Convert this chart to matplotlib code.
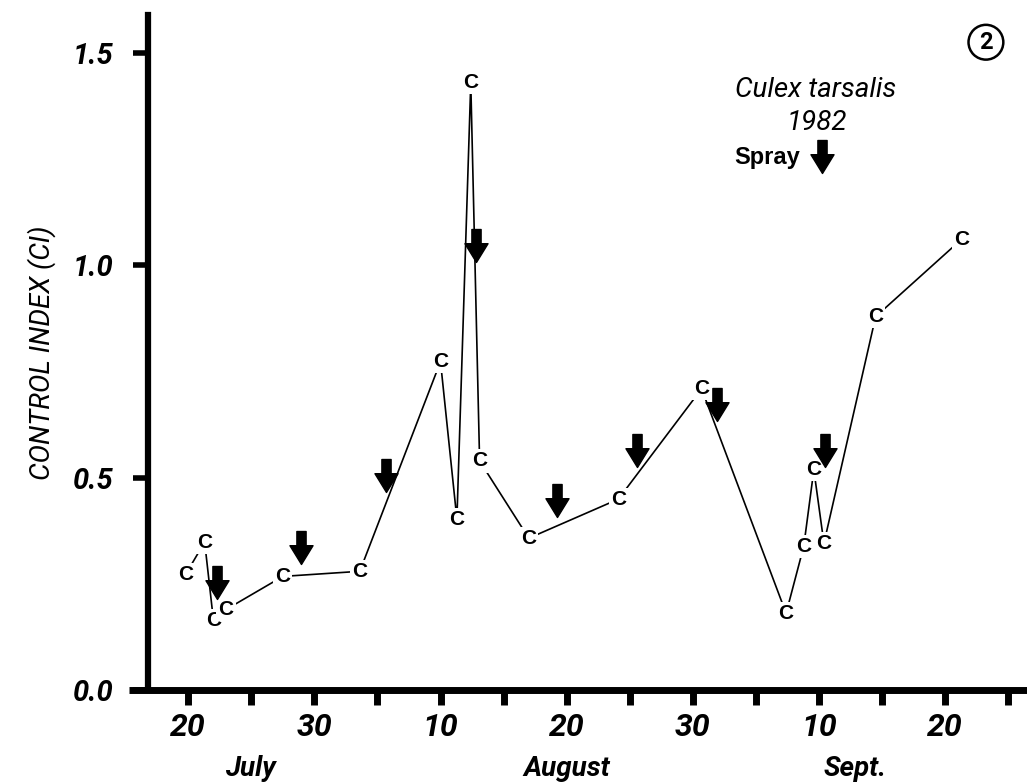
import matplotlib
matplotlib.use("Agg")
import matplotlib.pyplot as plt
from matplotlib.path import Path

# Sampling dates on a continuous day scale (20 = July 20, 30 = July 30,
# 40 = Aug 10, 50 = Aug 20, 60 = Aug 30, 70 = Sept 10, 80 = Sept 20)
sample_day = [19.8, 21.3, 22.0, 23.0, 27.5, 33.6, 40.0, 41.3, 42.4, 43.1,
              47.0, 54.1, 60.7, 67.4, 68.8, 69.6, 70.4, 74.5, 81.3]
control_index = [0.272, 0.348, 0.163, 0.189, 0.267, 0.279, 0.773, 0.402, 1.43,
                 0.539, 0.357, 0.449, 0.709, 0.180, 0.338, 0.518, 0.345, 0.879,
                 1.061]

# Spray applications (day and the CI level the arrow points at)
spray_day = [22.3, 28.9, 35.7, 42.8, 49.2, 55.6, 61.9, 70.5]
spray_level = [0.213, 0.296, 0.466, 1.007, 0.407, 0.525, 0.634, 0.525]

tick_days = [20, 30, 40, 50, 60, 70, 80]
tick_labels = ["20", "30", "10", "20", "30", "10", "20"]
minor_days = [25, 35, 45, 55, 65, 75, 85]
months = ["July", "August", "Sept."]
month_centres = [24.9, 50.0, 72.9]
y_ticks = [0.0, 0.5, 1.0, 1.5]
y_labels = ["0.0", "0.5", "1.0", "1.5"]

FONT = ["Roboto", "DejaVu Sans"]
SYMBOL_FONT = ["Liberation Sans", "DejaVu Sans"]

# Down-arrow marker with its tip at the origin
arrow_path = Path([(0.0, 0.0), (-0.35, 0.57), (-0.14, 0.57), (-0.14, 1.0),
                   (0.14, 1.0), (0.14, 0.57), (0.35, 0.57), (0.0, 0.0)],
                  closed=True)
ARROW_SIZE = 47.5  # marker size (points) -> ~33 px tall arrow

fig = plt.figure(figsize=(10.27, 7.82), dpi=100)
ax = fig.add_axes([0.144, 0.118, 0.856, 0.863])

ax.set_xlim(16.8, 86.5)
ax.set_ylim(0.0, 1.59)

# connecting line
ax.plot(sample_day, control_index, color="black", lw=1.2, zorder=2)

# "C" plotting symbols with a white knock-out so the line stops short of them
for d, v in zip(sample_day, control_index):
    ax.text(d, v, "C", ha="center", va="center", fontsize=15,
            fontweight="bold", family=SYMBOL_FONT, zorder=3,
            bbox=dict(boxstyle="square,pad=0.1", fc="white", ec="none"))

# spray arrows
ax.plot(spray_day, spray_level, linestyle="none", marker=arrow_path,
        markersize=ARROW_SIZE, color="black", zorder=4)

# axes styling
for side in ("top", "right"):
    ax.spines[side].set_visible(False)
ax.spines["left"].set_linewidth(4.5)
ax.spines["bottom"].set_linewidth(5)
ax.spines["bottom"].set_bounds(15.3, 86.5)
ax.spines["bottom"].set_capstyle("butt")

ax.set_xticks(tick_days)
ax.set_xticks(minor_days, minor=True)
ax.set_xticklabels(tick_labels, family=FONT, style="italic",
                   fontweight="bold", fontsize=23)
ax.tick_params(axis="x", which="both", direction="out", length=11, width=5,
               pad=6)
ax.set_yticks(y_ticks)
ax.set_yticklabels(y_labels, family=FONT, style="italic", fontweight="bold",
                   fontsize=21)
ax.tick_params(axis="y", direction="out", length=11, width=4, pad=14)

ax.set_ylabel("CONTROL INDEX (CI)", family=FONT, style="italic",
              fontsize=20, labelpad=12)

for m, c in zip(months, month_centres):
    ax.text(c, -0.117, m, transform=ax.get_xaxis_transform(), ha="center",
            va="center", family=FONT, style="italic", fontweight="bold",
            fontsize=20)

# title block and legend
ax.text(0.759, 0.889, "Culex tarsalis", transform=ax.transAxes, ha="center",
        va="center", family=FONT, style="italic", fontsize=20)
ax.text(0.761, 0.840, "1982", transform=ax.transAxes, ha="center",
        va="center", family=FONT, style="italic", fontsize=20)
ax.text(0.742, 0.789, "Spray", transform=ax.transAxes, ha="right",
        va="center", family=SYMBOL_FONT, fontweight="bold", fontsize=17)
ax.plot([0.767], [0.765], transform=ax.transAxes, linestyle="none",
        marker=arrow_path, markersize=ARROW_SIZE, color="black",
        clip_on=False)

# panel number
fig.text(0.960, 0.946, "2", ha="center", va="center", family=FONT,
         fontweight="bold", fontsize=17,
         bbox=dict(boxstyle="circle,pad=0.25", fc="white", ec="black", lw=1.8))

fig.savefig("out.png", dpi=100, facecolor="white")
